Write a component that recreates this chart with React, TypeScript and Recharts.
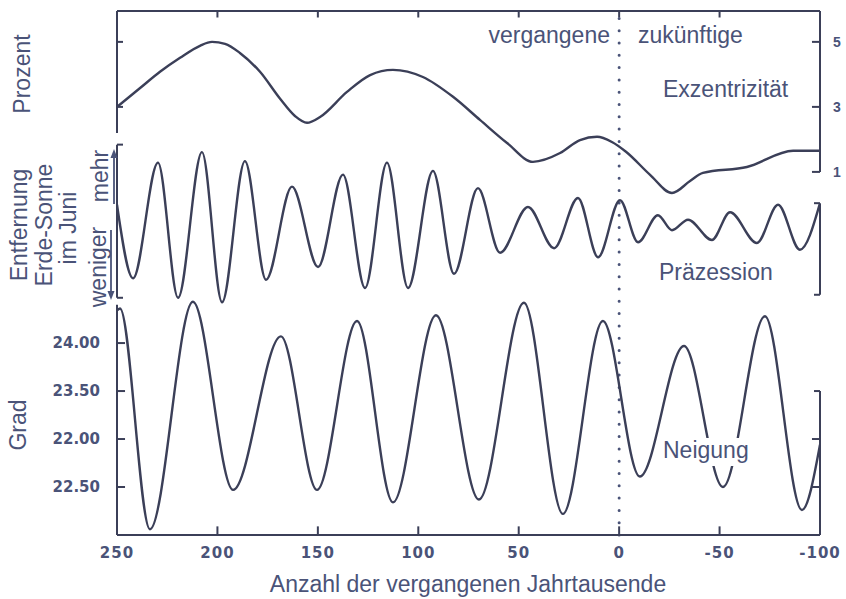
import React from 'react';
import { ComposedChart, Line, XAxis, YAxis, ReferenceLine } from 'recharts';

// thousands of years before present (negative = future)
const xTicks = [250, 200, 150, 100, 50, 0, -50, -100];
const xTickLabels = ['250', '200', '150', '100', '50', '0', '-50', '-100'];
const innerTicks = [200, 150, 100, 50, 0, -50];

// Exzentrizität (Prozent)
const eccTicks = [5, 3, 1];
const eccKyr = [250, 238.5, 228.6, 218.6, 208.7, 202.7, 196.2, 188.8, 178.8, 168.8, 161.4, 155.4, 148.9, 135.5, 124, 112.6, 97.7, 82.7, 69.3, 55.8, 42.9, 29.4, 19.5, 11, 3.6, -3.4, -15.4, -26.3, -35.3, -41.7, -63.6, -86.6, -100];
const eccVals = [3.0, 3.58, 4.08, 4.51, 4.88, 5.0, 4.94, 4.66, 4.08, 3.25, 2.72, 2.51, 2.69, 3.46, 3.98, 4.14, 3.92, 3.31, 2.6, 1.89, 1.31, 1.58, 1.98, 2.08, 1.92, 1.62, 0.91, 0.35, 0.72, 0.97, 1.15, 1.65, 1.65];

// Präzession (relative Entfernung Erde-Sonne im Juni)
const precKyr = [250, 242, 229.6, 219.6, 207.7, 197.7, 186.3, 175.8, 162.9, 149.9, 137.5, 126.5, 115.6, 105.1, 92.7, 82.2, 70.3, 59.3, 45.4, 32.4, 20.5, 10.5, -0.4, -9.4, -19.3, -26.3, -34.3, -46.2, -55.2, -68.6, -79.1, -90, -100];
const precVals = [0.23, -0.75, 0.79, -1.01, 0.93, -1.07, 0.81, -0.77, 0.47, -0.6, 0.63, -0.88, 0.79, -0.88, 0.68, -0.69, 0.45, -0.41, 0.2, -0.35, 0.32, -0.47, 0.29, -0.27, 0.09, -0.11, 0.03, -0.24, 0.13, -0.28, 0.23, -0.37, 0.25];

// Neigung (Grad)
const oblTicks = [24, 23.5, 23, 22.5];
const oblTickLabels = ['24.00', '23.50', '22.00', '22.50'];
const oblKyr = [250, 248.5, 233.6, 212.2, 192.2, 168.4, 150.4, 130.5, 112.6, 91.2, 69.8, 47.4, 28.0, 8.1, -10.3, -32.3, -51.7, -72.6, -91.0, -100];
const oblVals = [24.34, 24.36, 22.06, 24.43, 22.47, 24.07, 22.47, 24.23, 22.34, 24.29, 22.37, 24.42, 22.22, 24.23, 22.61, 23.97, 22.5, 24.28, 22.26, 22.94];

const ECC_DOMAIN: [number, number] = [-10.17, 5.95];
const PREC_DOMAIN: [number, number] = [-4.17, 2.81];
const OBL_DOMAIN: [number, number] = [22.0, 27.46];

const INK = '#3b3f58';
const TEXT = '#4a5378';
const SANS = '"Liberation Sans", Arial, sans-serif';
const BOLD = '"DejaVu Sans", sans-serif';

const eccData = eccKyr.map((k, i) => ({ kyr: k, v: eccVals[i] }));
const precData = precKyr.map((k, i) => ({ kyr: k, v: precVals[i] }));
const oblData = oblKyr.map((k, i) => ({ kyr: k, v: oblVals[i] }));

type Seg = { axis: string; a: [number, number]; b: [number, number] };

// frame pieces, in each panel's own units
const frame: Seg[] = [
  { axis: 'ecc', a: [250, 5.95], b: [-100, 5.95] },
  { axis: 'ecc', a: [250, 5.95], b: [250, 2.2] },
  { axis: 'ecc', a: [-100, 5.95], b: [-100, 1] },
  ...innerTicks.map((t): Seg => ({ axis: 'ecc', a: [t, 5.95], b: [t, 5.75] })),
  ...[5, 3].map((v): Seg => ({ axis: 'ecc', a: [250, v], b: [247, v] })),
  ...eccTicks.map((v): Seg => ({ axis: 'ecc', a: [-100, v], b: [-96, v] })),
  { axis: 'prec', a: [250, 1.03], b: [250, -1.01] },
  { axis: 'prec', a: [250, 1.03], b: [247, 1.03] },
  { axis: 'prec', a: [250, -1.01], b: [247, -1.01] },
  { axis: 'prec', a: [-100, 0.25], b: [-100, -0.97] },
  { axis: 'prec', a: [-100, 0.25], b: [-97, 0.25] },
  { axis: 'prec', a: [-100, -0.97], b: [-97, -0.97] },
  { axis: 'obl', a: [250, 24.4], b: [250, 22] },
  ...oblTicks.map((v): Seg => ({ axis: 'obl', a: [250, v], b: [246, v] })),
  { axis: 'obl', a: [-100, 23.5], b: [-100, 22] },
  { axis: 'obl', a: [-100, 23.5], b: [-97, 23.5] },
  ...[23, 22.5].map((v): Seg => ({ axis: 'obl', a: [-100, v], b: [-96, v] })),
  ...innerTicks.map((t): Seg => ({ axis: 'obl', a: [t, 22], b: [t, 22.09] })),
];

function Overlay() {
  const t = { fontFamily: SANS, fontSize: 23, fill: TEXT } as const;
  return (
    <svg width={846} height={599} style={{ position: 'absolute', left: 0, top: 0, pointerEvents: 'none' }}>
      <text {...t} transform="translate(30,74) rotate(-90)" textAnchor="middle">Prozent</text>
      <text {...t} transform="translate(27,225) rotate(-90)" textAnchor="middle">Entfernung</text>
      <text {...t} transform="translate(52,225) rotate(-90)" textAnchor="middle">Erde-Sonne</text>
      <text {...t} transform="translate(76,228) rotate(-90)" textAnchor="middle">im Juni</text>
      <text {...t} transform="translate(108,176) rotate(-90)" textAnchor="middle">mehr</text>
      <text {...t} transform="translate(106,267) rotate(-90)" textAnchor="middle">weniger</text>
      <line x1={114} y1={204} x2={114} y2={152} stroke={TEXT} strokeWidth={1.8} />
      <path d="M110.5,158 L114,149 L117.5,158 Z" fill={TEXT} />
      <line x1={111} y1={230} x2={111} y2={296} stroke={TEXT} strokeWidth={1.8} />
      <path d="M107.5,291 L111,300 L114.5,291 Z" fill={TEXT} />
      <text {...t} transform="translate(26,425) rotate(-90)" textAnchor="middle">Grad</text>
      <text {...t} x={610} y={43} textAnchor="end">vergangene</text>
      <text {...t} x={638} y={43}>zukünftige</text>
      <text {...t} x={663} y={97}>Exzentrizität</text>
      <text {...t} x={659} y={280}>Präzession</text>
      <rect x={661} y={438} width={94} height={28} fill="#ffffff" />
      <text {...t} x={663} y={458}>Neigung</text>
      <text {...t} x={468} y={592} textAnchor="middle">Anzahl der vergangenen Jahrtausende</text>
    </svg>
  );
}

export default function App() {
  return (
    <div style={{ position: 'absolute', left: 0, top: 0, width: 846, height: 599, background: '#ffffff' }}>
      <ComposedChart width={846} height={599} margin={{ top: 11, right: 0, bottom: 34, left: 0 }}>
        <XAxis
          dataKey="kyr"
          type="number"
          domain={[-100, 250]}
          reversed
          allowDataOverflow
          ticks={xTicks}
          interval={0}
          height={30}
          tickFormatter={(v: number) => xTickLabels[xTicks.indexOf(v)]}
          axisLine={{ stroke: INK, strokeWidth: 2 }}
          tickLine={false}
          tickSize={6}
          tickMargin={6}
          tick={{ fill: TEXT, fontSize: 15, fontWeight: 'bold', fontFamily: BOLD, letterSpacing: 1 }}
        />
        <YAxis
          yAxisId="obl"
          orientation="left"
          width={117}
          domain={OBL_DOMAIN}
          allowDataOverflow
          ticks={oblTicks}
          interval={0}
          tickFormatter={(v: number) => oblTickLabels[oblTicks.indexOf(v)]}
          axisLine={false}
          tickLine={false}
          tickSize={8}
          tickMargin={9}
          tick={{ fill: TEXT, fontSize: 15, fontWeight: 'bold', fontFamily: BOLD }}
        />
        <YAxis
          yAxisId="ecc"
          orientation="right"
          width={26}
          domain={ECC_DOMAIN}
          allowDataOverflow
          ticks={eccTicks}
          interval={0}
          axisLine={false}
          tickLine={false}
          tickSize={0}
          tickMargin={13}
          tick={{ fill: TEXT, fontSize: 14, fontWeight: 'bold', fontFamily: SANS }}
        />
        <YAxis yAxisId="prec" hide domain={PREC_DOMAIN} allowDataOverflow />

        {frame.map((s, i) => (
          <ReferenceLine
            key={i}
            yAxisId={s.axis}
            ifOverflow="visible"
            segment={[{ x: s.a[0], y: s.a[1] }, { x: s.b[0], y: s.b[1] }]}
            stroke={INK}
            strokeWidth={2}
          />
        ))}
        <ReferenceLine
          x={0}
          yAxisId="obl"
          stroke={TEXT}
          strokeWidth={3}
          strokeDasharray="0 12.3"
          strokeLinecap="round"
        />

        <Line yAxisId="ecc" data={eccData} dataKey="v" type="monotone" stroke={INK} strokeWidth={2.4} dot={false} isAnimationActive={false} />
        <Line yAxisId="prec" data={precData} dataKey="v" type="monotone" stroke={INK} strokeWidth={2.4} dot={false} isAnimationActive={false} />
        <Line yAxisId="obl" data={oblData} dataKey="v" type="monotone" stroke={INK} strokeWidth={2.4} dot={false} isAnimationActive={false} />
      </ComposedChart>
      <Overlay />
    </div>
  );
}
